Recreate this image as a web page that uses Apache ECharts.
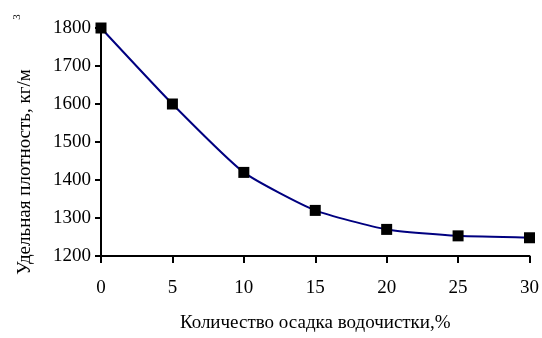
<!DOCTYPE html>
<html>
<head>
<meta charset="utf-8">
<script src="https://cdn.jsdelivr.net/npm/echarts@6/dist/echarts.min.js"></script>
<style>html,body{margin:0;padding:0;background:#fff}#c{width:542px;height:338px}</style>
</head>
<body>
<div id="c"></div>
<script>
var xValues = [0, 5, 10, 15, 20, 25, 30];
var densities = [1800, 1600, 1420, 1320, 1270, 1253, 1248];
var xTitle = 'Количество осадка водочистки,%';
var yTitle = 'Удельная плотность, кг/м';
var yTitleSup = '3';

var font = '"Liberation Serif", "Times New Roman", serif';
var chart = echarts.init(document.getElementById('c'));
var data = xValues.map(function (x, i) { return [x, densities[i]]; });
chart.setOption({
  animation: false,
  backgroundColor: '#fff',
  grid: { left: 101, right: 11, top: 28, bottom: 80, containLabel: false },
  xAxis: {
    type: 'value', min: 0, max: 30, interval: 5,
    name: xTitle, nameLocation: 'middle', nameGap: 58,
    nameTextStyle: { fontFamily: font, fontSize: 19, color: '#000' },
    axisLine: { lineStyle: { color: '#000', width: 2 } },
    axisTick: { show: true, length: 7, lineStyle: { color: '#000', width: 2 } },
    axisLabel: { fontFamily: font, fontSize: 19, color: '#000', margin: 23,
      formatter: function (v) { return String(v); } },
    splitLine: { show: false }
  },
  yAxis: {
    type: 'value', min: 1200, max: 1800, interval: 100,
    axisLine: { show: true, lineStyle: { color: '#000', width: 2 } },
    axisTick: { show: true, length: 6, lineStyle: { color: '#000', width: 2 } },
    axisLabel: { fontFamily: font, fontSize: 19, color: '#000', margin: 10,
      formatter: function (v) { return String(v); } },
    splitLine: { show: false }
  },
  graphic: [
    { type: 'text', x: 25, y: 172, rotation: Math.PI / 2,
      style: { text: yTitle, font: '19px ' + font, fill: '#000', textAlign: 'center', textVerticalAlign: 'middle' } },
    { type: 'text', x: 17, y: 17, rotation: Math.PI / 2,
      style: { text: yTitleSup, font: '11px ' + font, fill: '#000', textAlign: 'center', textVerticalAlign: 'middle' } }
  ],
  series: [{
    type: 'line', data: data, smooth: 0.18,
    symbol: 'rect', symbolSize: 11,
    itemStyle: { color: '#000' },
    lineStyle: { color: '#000080', width: 2 }
  }]
});
</script>
</body>
</html>
